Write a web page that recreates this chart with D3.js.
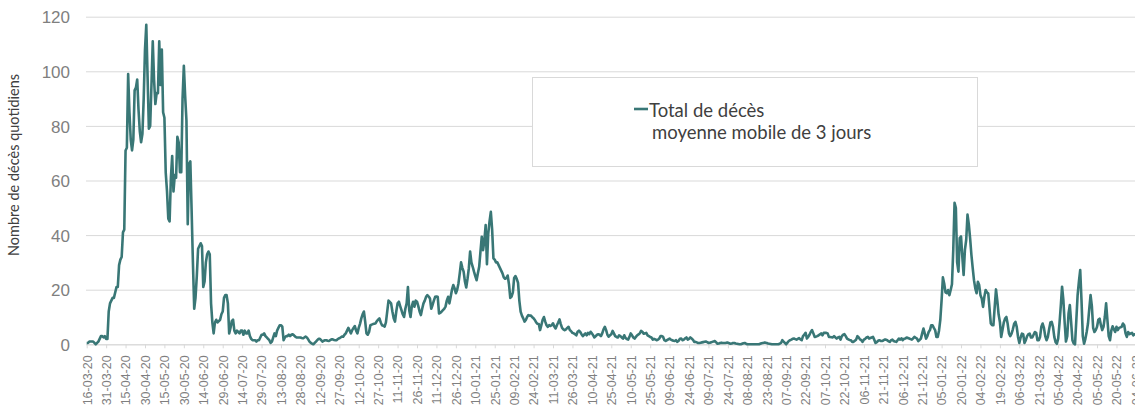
<!DOCTYPE html>
<html lang="fr">
<head>
    <meta charset="UTF-8">
    <script src="https://d3js.org/d3.v7.min.js"></script>
    <title>Décès quotidiens</title>
    <style>
        body { margin: 0; background: #fff; }
        svg { display: block; font-family: Lato, 'Open Sans', sans-serif; }
        .grid line { stroke: #d9d9d9; stroke-width: 1; }
        .grid text { fill: #7f7f7f; font-size: 17px; }
        .xaxis line, .xaxis path { stroke: #d9d9d9; }
        .xaxis text { fill: #7f7f7f; font-size: 12.5px; }
        text.ytitle { fill: #404040; font-size: 14.5px; text-anchor: middle; }
        text.leg { fill: #404040; font-size: 18.5px; }
    </style>
</head>
<body>
<svg width="1135" height="406"></svg>
<script>
    const width = 1135, height = 406;
    const teal = "#397776";

    // first day of the series, one value per day after it
    const startDate = "2020-03-16";
    const tickStep = 15; // days between x labels
    const yTicks = [0, 20, 40, 60, 80, 100, 120];
    const seriesName = ["Total de décès", "moyenne mobile de 3 jours"];
    const yTitle = "Nombre de décès quotidiens";

    // daily deaths, 3-day moving average (one row = 15 days)
    const deaths = [
        0.5,0.5,1,1,1,1,0.5,0,0.5,1,2,3,3,2.5,3,
        2,2,12,15,16,17,17,19,21,21,29,31,32,41,42,
        71,72,99,85,75,71,75,93,94,97,86,78,74,77,90,
        108,117,98,79,80,95,111,97,88,92,92,111,95,108,85,
        83,63,56,46,45,61,69,56,62,61,76,74,63,63,90,
        102,91,82,44,66,67,49,30,13,17,25,35,36,37,36,
        21,23,30,33,34,33,15,8,4,8,9,8,8.5,9,11,
        12,17,18,18,15,4,6,8.5,9,5,4,5,4.5,4,5,
        5,3.5,5,4,4,5,3,2,1.5,1.5,1.5,1,1.5,1.5,2.5,
        3.5,3.5,4,3,2.5,2,1.5,0.5,1,2.5,4,3,5,6,7,
        7,6.5,1.5,2.5,3,3,3.5,3,3.5,3.7,3.3,2.8,2.5,2.5,2.5,
        2.5,2.3,2.2,2.5,2.8,2.5,1.8,1,0.5,0.2,0,0.5,1,1.5,2,
        2,1.5,1,1.3,1.5,1.5,1.3,1.2,1.5,1.8,1.8,1.6,1.5,1.5,2,
        2.2,2.5,2.8,2.8,3.5,4,5,6,5,4,5.2,6,6.7,5,4,
        6,7.5,9.5,11,12,8.3,4,3.5,4.5,7,7.2,7.4,7.5,7.7,8.5,
        9,9.5,8,7,6.8,6.5,8,12,16,15.5,15,12,9.5,8.3,12,
        15,15.6,14,12.5,11,10,13,15,21,12.5,10,14,15.6,13.8,16,
        15.6,14,12,10.7,13,15,16,17.4,18,17.5,16.8,13,14.4,16,17.4,
        17.5,17.4,11.3,11.5,12,12.5,13,13.8,16,17.4,15,17.4,20,21.7,20.5,
        18.7,20,22.3,26,30,28,26.6,23,20.8,24,27.8,34,30,28.4,26.6,
        25,23.5,26,28.4,34,39.4,34.5,38,43.7,29.3,40.5,45,48.5,42,31.5,
        31,30,30,29,28,27,26,24.5,24,24.3,25.2,22,17,17.5,19,
        24.3,25,24,22.5,16,12,10.5,9.5,8.3,8.9,10,10.7,10.5,10.5,9.9,
        9.5,8.9,8,7.5,7.4,5.2,7,9,10,8.3,7,6.4,7,6.7,7,
        7.7,6.5,5.8,7,8,9.1,7.4,6,5.5,5.2,5.5,6,6.4,5.2,4.8,
        4.2,4,3.7,3.3,4.6,5,4.5,3.7,3,3.5,4,3.3,4.2,3.7,4.6,
        4,3.3,2.5,3,3.5,3.7,3.5,3,4,5.5,6.4,5.2,3.5,2.8,3.3,
        3.7,4.9,4,3,2.7,2.5,3.3,3,2.5,2.1,3.3,2.3,1.9,1.7,2.7,
        4,3.3,2.5,2.1,2.7,3.3,3.6,4,4.9,4.6,3.9,4,4.2,3.3,3,
        2.7,2.5,1.7,2,1.8,1.5,1.7,2.1,3,3,2.7,1.5,1.2,1.5,1.8,
        2.1,1.7,1.5,1.3,1.2,1.5,0.9,1.3,2,2.1,1.5,1.7,2.2,2.5,1.7,
        2,2.5,2.1,1.7,0.9,0.9,0.7,0.5,0.5,0.6,0.7,0.8,0.9,1,0.8,
        0.5,0.6,0.7,0.9,1,1.2,0.7,0.2,0.3,0.5,0.6,0.5,0.5,0.5,0.6,
        0.6,0.4,0.2,0.3,0.5,0.5,0.3,0.2,0.1,0,0,0.2,0.4,0.5,0.2,
        0,0,0,0,0,0,0,0,0,0,0.2,0.4,0.5,0.6,0.6,
        0.5,0.3,0.2,0.1,0,0,0,0,0,0,0.2,0.5,1.5,1,0.5,
        0,0.6,1.2,1.5,1.7,2,2.1,1.9,1.7,2,2.3,1.8,1.5,3,3.5,
        4.2,2.1,2.7,3.5,4.5,5.2,4,2.7,2.8,3,3.3,3.6,4,3.3,4.2,
        4.2,4.2,4,2.7,2.7,2.6,2.5,3,2.5,2.1,2.5,2.7,1.7,3,3.5,
        3.7,3,2.1,1.8,1.6,1.5,0.9,0.9,1.3,1.7,3,2.5,1.8,1.5,0.9,
        1.7,2,2.5,2.7,2.1,2.3,2.5,2.7,1.7,0.5,0.8,1.3,1.5,1.2,1.2,
        1.4,1.7,1.7,1.5,1.1,0.9,1.5,1.7,1.2,1,0.9,1.5,2.1,1.7,2.2,
        1.5,2,2.1,2.5,2.3,2.1,1.9,1.7,2.2,2.7,2.4,2.1,1.2,1.6,2.1,
        4,5.8,3.9,2.1,3,4.5,5.2,7,7,6,5.2,2.7,2.7,5,9,
        16.2,24.5,22.3,19,18.7,19.9,18,19.9,22,34.6,51.8,50,30,26.6,38.9,
        39.5,32,25.4,34.6,38.3,47.5,44,38.9,32.8,28,23.5,20.5,18.7,22.9,21.7,
        18,16.8,13.7,17.4,19.9,19,18.7,13.1,7.6,7,7,13.7,20.1,16,11,
        8.2,2.7,5.2,8,9.4,10,7.5,4,3,3.9,5.5,7.5,8.2,6.4,2.7,
        0.5,2.5,3.9,3.7,0.5,1.5,3,3.7,3.9,2.5,2.5,3.5,4.5,4.2,1.5,
        1.5,2.7,6.4,7.6,6,3,1.5,2.7,5.5,8,8.2,6.4,2.7,0.8,0.2,
        2.1,7.6,14,21.1,16.2,8,1,3,11.3,14.4,8,1.5,0.3,0,8.8,
        18,23,27.2,16.2,3,0.2,2,4.5,7.6,13,18,14,6,4.5,5.2,
        6.4,9,9.4,7,5.2,6.4,10,15,9,3,1.5,5,6.6,5.5,4.5,
        6.4,5.2,6,6.2,6.4,7.6,7,4,2.7,4.5,3.7,4,4.2,3.3,3.7,
        3.5
    ];

    const t0 = d3.utcParse("%Y-%m-%d")(startDate);
    const dates = deaths.map((d, i) => d3.utcDay.offset(t0, i));
    const xTicks = d3.range(0, deaths.length, tickStep).map(i => dates[i]);

    const x = d3.scaleUtc()
        .domain([t0, dates[dates.length - 1]])
        .range([86.7, 1135.9]);
    const y = d3.scaleLinear().domain([0, 120]).range([344.3, 16.7]);

    const svg = d3.select("svg");

    // horizontal gridlines + y labels
    const grid = svg.append("g").attr("class", "grid")
        .attr("transform", "translate(86,0)")
        .call(d3.axisLeft(y).tickValues(yTicks).tickSize(-(width - 86)).tickPadding(16));
    grid.select(".domain").remove();
    grid.selectAll("text").attr("dy", "0.36em");

    // x axis
    const xa = svg.append("g").attr("class", "xaxis")
        .attr("transform", `translate(0,${y(0)})`)
        .call(d3.axisBottom(x).tickValues(xTicks).tickSize(4).tickSizeOuter(0)
            .tickFormat(d3.utcFormat("%d-%m-%y")));
    xa.selectAll("text")
        .attr("transform", "rotate(-90)")
        .attr("text-anchor", "end")
        .attr("x", -11).attr("y", 0).attr("dy", "0.35em");

    // y title
    svg.append("text").attr("class", "ytitle")
        .attr("transform", "translate(19,165) rotate(-90)")
        .text(yTitle);

    // series line
    const line = d3.line()
        .x((d, i) => x(dates[i]))
        .y(d => y(d));
    svg.append("path").datum(deaths)
        .attr("fill", "none")
        .attr("stroke", teal)
        .attr("stroke-width", 2.6)
        .attr("stroke-linejoin", "round")
        .attr("d", line);

    // legend
    const leg = svg.append("g");
    leg.append("rect")
        .attr("x", 532.5).attr("y", 77.5).attr("width", 445).attr("height", 89)
        .attr("fill", "#fff").attr("stroke", "#d9d9d9");
    leg.append("line")
        .attr("x1", 634).attr("x2", 648).attr("y1", 109).attr("y2", 109)
        .attr("stroke", teal).attr("stroke-width", 2.6);
    leg.append("text").attr("class", "leg")
        .attr("x", 649).attr("y", 116.5).text(seriesName[0]);
    leg.append("text").attr("class", "leg")
        .attr("x", 652).attr("y", 138.5).text(seriesName[1]);
</script>
</body>
</html>
